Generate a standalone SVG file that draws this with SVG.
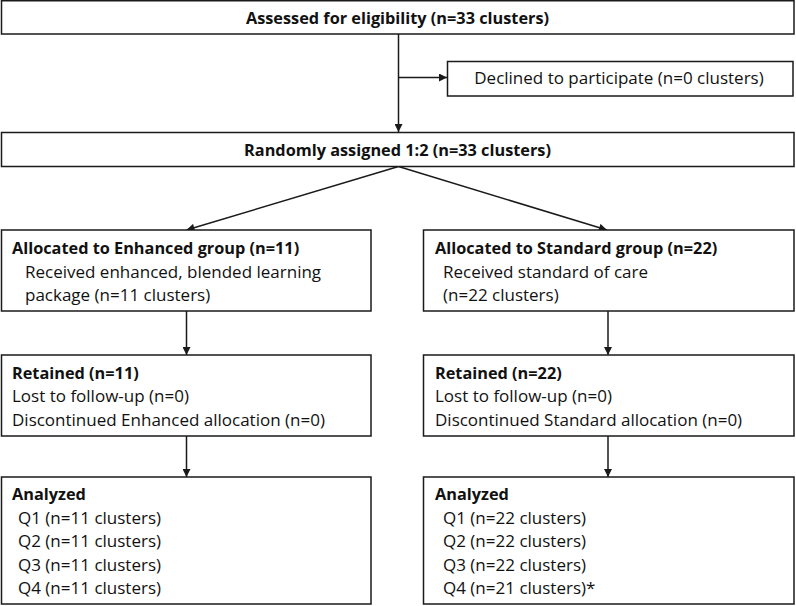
<svg xmlns="http://www.w3.org/2000/svg" width="796" height="606" viewBox="0 0 796 606">
  <style>
    .box { fill: #ffffff; stroke: #1a1a1a; stroke-width: 1.5; }
    .edge { fill: none; stroke: #1a1a1a; stroke-width: 1.5; marker-end: url(#arrow); }
    text { font-family: "Open Sans", Lato, "Liberation Sans", sans-serif; font-size: 17px; fill: #111111; }
    .b { font-weight: bold; font-size: 16.3px; }
    .c { text-anchor: middle; }
  </style>
  <defs>
    <marker id="arrow" viewBox="0 0 10 10" refX="10" refY="5" markerWidth="10" markerHeight="8" markerUnits="userSpaceOnUse" orient="auto">
      <path d="M0,0 L10,5 L0,10 z" fill="#1a1a1a"/>
    </marker>
  </defs>

  <rect width="796" height="606" fill="#ffffff"/>

  <!-- connectors -->
  <g id="connectors">
    <path class="edge" d="M398.5,34 V132"/>
    <path class="edge" d="M398.5,77.5 H447"/>
    <path class="edge" d="M398.5,166.5 L186.5,230"/>
    <path class="edge" d="M398.5,166.5 L607,230"/>
    <path class="edge" d="M186.5,311 V355"/>
    <path class="edge" d="M608,311 V355"/>
    <path class="edge" d="M186.5,436 V477"/>
    <path class="edge" d="M608,436 V477"/>
  </g>

  <g id="assessed">
    <rect class="box" x="1.5" y="0.75" width="792.5" height="33.25"/>
    <text class="b c" x="397.5" y="24">Assessed for eligibility (n=33 clusters)</text>
  </g>

  <g id="declined">
    <rect class="box" x="447.5" y="61.5" width="345.5" height="34.5"/>
    <text class="c" x="619" y="84">Declined to participate (n=0 clusters)</text>
  </g>

  <g id="randomised">
    <rect class="box" x="1.5" y="132.5" width="792.5" height="34"/>
    <text class="b c" x="397.5" y="156">Randomly assigned 1:2 (n=33 clusters)</text>
  </g>

  <g id="alloc-enhanced">
    <rect class="box" x="1.5" y="230" width="369.5" height="81"/>
    <text class="b" x="12" y="254">Allocated to Enhanced group (n=11)</text>
    <text x="25" y="277.5">Received enhanced, blended learning</text>
    <text x="25" y="301">package (n=11 clusters)</text>
  </g>

  <g id="alloc-standard">
    <rect class="box" x="423.5" y="230" width="370.5" height="81"/>
    <text class="b" x="435" y="254">Allocated to Standard group (n=22)</text>
    <text x="443" y="277.5">Received standard of care</text>
    <text x="443" y="301">(n=22 clusters)</text>
  </g>

  <g id="retained-enhanced">
    <rect class="box" x="1.5" y="355" width="369.5" height="81"/>
    <text class="b" x="12" y="378.5">Retained (n=11)</text>
    <text x="12" y="402">Lost to follow-up (n=0)</text>
    <text x="12" y="425.5">Discontinued Enhanced allocation (n=0)</text>
  </g>

  <g id="retained-standard">
    <rect class="box" x="423.5" y="355" width="370.5" height="81"/>
    <text class="b" x="435" y="378.5">Retained (n=22)</text>
    <text x="435" y="402">Lost to follow-up (n=0)</text>
    <text x="435" y="425.5">Discontinued Standard allocation (n=0)</text>
  </g>

  <g id="analyzed-enhanced">
    <rect class="box" x="1.5" y="477" width="369.5" height="127"/>
    <text class="b" x="12" y="500">Analyzed</text>
    <text x="18" y="523.5">Q1 (n=11 clusters)</text>
    <text x="18" y="547">Q2 (n=11 clusters)</text>
    <text x="18" y="570.5">Q3 (n=11 clusters)</text>
    <text x="18" y="594">Q4 (n=11 clusters)</text>
  </g>

  <g id="analyzed-standard">
    <rect class="box" x="423.5" y="477" width="370.5" height="127"/>
    <text class="b" x="435" y="500">Analyzed</text>
    <text x="443" y="523.5">Q1 (n=22 clusters)</text>
    <text x="443" y="547">Q2 (n=22 clusters)</text>
    <text x="443" y="570.5">Q3 (n=22 clusters)</text>
    <text x="443" y="594">Q4 (n=21 clusters)*</text>
  </g>
</svg>
